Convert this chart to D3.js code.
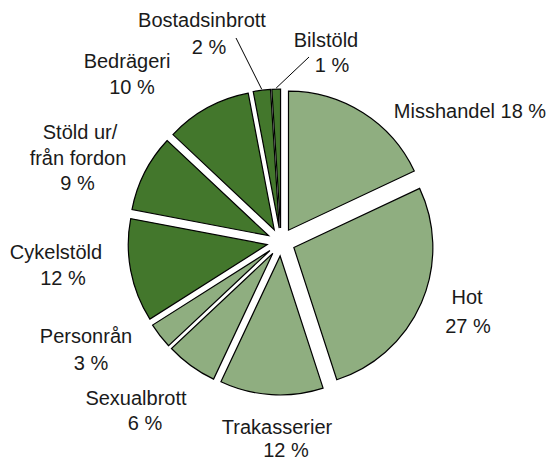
<!DOCTYPE html>
<html>
<head>
<meta charset="utf-8">
<script src="https://cdn.jsdelivr.net/npm/d3@7"></script>
<style>
  html, body { margin: 0; padding: 0; background: #fff; }
  svg text { font-family: "Liberation Sans", Arial, sans-serif; font-size: 20px; fill: #1a1a1a; }
</style>
</head>
<body>
<svg id="chart" width="552" height="461"></svg>
<script>
// Anmälda brott per typ, andel i procent. Pie starts at 12 o'clock, clockwise.
const categories = ["Misshandel", "Hot", "Trakasserier", "Sexualbrott", "Personrån",
  "Cykelstöld", "Stöld ur/från fordon", "Bedrägeri", "Bostadsinbrott", "Bilstöld"];
const shares = [18, 27, 12, 6, 3, 12, 9, 10, 2, 1];
const groups = ["person", "person", "person", "person", "person",
  "egendom", "egendom", "egendom", "egendom", "egendom"];
// label text lines as they are broken in the original
const labelLines = [
  ["Misshandel 18 %"], ["Hot", "27 %"], ["Trakasserier", "12 %"], ["Sexualbrott", "6 %"],
  ["Personrån", "3 %"], ["Cykelstöld", "12 %"], ["Stöld ur/", "från fordon", "9 %"],
  ["Bedrägeri", "10 %"], ["Bostadsinbrott", "2 %"], ["Bilstöld", "1 %"]
];
const leaderFor = ["Bostadsinbrott", "Bilstöld"];

// layout: per-line label centre/baseline (px), leader start points
const labelPos = {
  "Misshandel": [[470, 118]],
  "Hot": [[467, 304], [468, 333]],
  "Trakasserier": [[277, 434], [286, 457]],
  "Sexualbrott": [[136, 405], [145, 430]],
  "Personrån": [[86, 343], [91, 370]],
  "Cykelstöld": [[56, 259], [63, 285]],
  "Stöld ur/från fordon": [[80, 139], [78, 165], [77.5, 190]],
  "Bedrägeri": [[127, 68], [132, 94]],
  "Bostadsinbrott": [[202, 27], [209, 54]],
  "Bilstöld": [[326, 47], [332, 72]]
};
const leaderStart = { "Bostadsinbrott": [236, 38], "Bilstöld": [309, 57] };

const cx = 281, cy = 242, R = 139, explode = 14;
const color = d3.scaleOrdinal().domain(["person", "egendom"]).range(["#8fae80", "#43772c"]);

const svg = d3.select("#chart");
const data = categories.map((c, i) => ({ cat: c, v: shares[i], g: groups[i], lines: labelLines[i] }));
const arcs = d3.pie().sort(null).value(d => d.v).startAngle(0).endAngle(2 * Math.PI)(data);
const arc = d3.arc().innerRadius(0).outerRadius(R);
const mid = a => (a.startAngle + a.endAngle) / 2;
const off = a => [Math.sin(mid(a)) * explode, -Math.cos(mid(a)) * explode];

const g = svg.append("g").attr("transform", `translate(${cx},${cy})`);
g.selectAll("path.slice").data(arcs).join("path")
  .attr("class", "slice")
  .attr("transform", d => `translate(${off(d)})`)
  .attr("d", arc)
  .attr("fill", d => color(d.data.g))
  .attr("stroke", "#000").attr("stroke-width", 1.2).attr("stroke-linejoin", "miter");

// leader lines for the two thin slices
const edge = d3.arc().innerRadius(R + 1).outerRadius(R + 1);
arcs.filter(a => leaderFor.includes(a.data.cat)).forEach(a => {
  const o = off(a), p = edge.centroid(a), s = leaderStart[a.data.cat];
  svg.append("line")
    .attr("x1", s[0]).attr("y1", s[1])
    .attr("x2", cx + o[0] + p[0]).attr("y2", cy + o[1] + p[1])
    .attr("stroke", "#000").attr("stroke-width", 1);
});

// labels
arcs.forEach(a => {
  const pos = labelPos[a.data.cat];
  const t = svg.append("text").attr("text-anchor", "middle");
  a.data.lines.forEach((ln, i) => {
    t.append("tspan").attr("x", pos[i][0]).attr("y", pos[i][1]).text(ln);
  });
});
</script>
</body>
</html>
